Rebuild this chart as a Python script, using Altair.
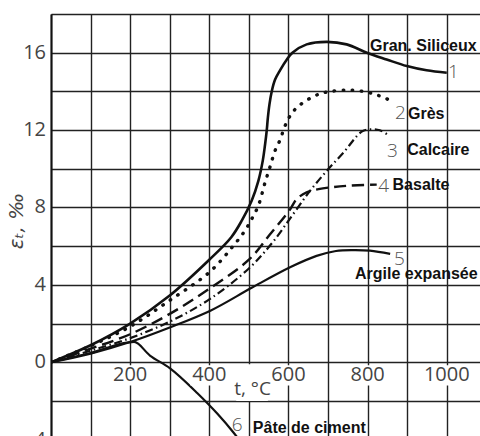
import altair as alt
import pandas as pd

# Thermal strain of concrete aggregates vs temperature
x1 = [0, 100, 200, 300, 400, 455, 482, 507, 524, 535, 541, 545, 548, 552, 558, 566, 579, 596, 610, 646, 697, 747, 798, 848, 899, 949, 1000]
y1 = [0, 0.88, 2.0, 3.45, 5.3, 6.45, 7.32, 8.35, 9.38, 10.41, 11.27, 11.96, 12.64, 13.33, 14.02, 14.6, 15.1, 15.65, 16.0, 16.43, 16.56, 16.43, 16.0, 15.65, 15.31, 15.09, 14.96]

x2 = [0, 100, 200, 300, 400, 460, 490, 507, 524, 541, 553, 566, 579, 591, 604, 621, 650, 676, 701, 747, 794, 831, 861]
y2 = [0, 0.85, 1.85, 3.2, 4.65, 6.0, 6.8, 7.4, 8.1, 9.3, 10.07, 10.93, 11.5, 12.2, 12.73, 13.16, 13.59, 13.85, 13.98, 14.07, 13.98, 13.76, 13.5]

x3 = [0, 100, 200, 300, 400, 500, 560, 612, 655, 697, 739, 785, 806, 831, 852]
y3 = [0, 0.6, 1.25, 2.1, 3.25, 4.85, 6.2, 7.66, 8.87, 9.9, 10.84, 11.92, 12.04, 11.99, 11.75]

x4 = [0, 100, 200, 300, 400, 500, 553, 604, 621, 646, 676, 747, 823]
y4 = [0, 0.7, 1.45, 2.5, 3.8, 5.3, 6.6, 7.9, 8.44, 8.78, 8.95, 9.12, 9.18]

x5 = [0, 100, 200, 300, 404, 507, 604, 671, 720, 760, 806, 857]
y5 = [0, 0.45, 1.05, 1.8, 2.68, 3.85, 4.91, 5.5, 5.75, 5.8, 5.77, 5.6]

x6 = [0, 100, 210, 250, 300, 370, 420, 460, 490]
y6 = [0, 0.48, 1.05, 0.35, -0.3, -1.6, -2.65, -3.6, -4.4]

# Curve numbers and material names
num_text = ["1", "2", "3", "4", "5", "6"]
num_x = [1003, 869, 849, 827, 867, 457]
num_y = [15.0, 12.89, 10.93, 9.12, 5.36, -3.25]

name_text = ["Gran. Siliceux", "Grès", "Calcaire", "Basalte", "Argile expansée", "Pâte de ciment"]
name_x = [806, 902, 900, 863, 768, 510]
name_y = [16.35, 12.84, 10.98, 9.15, 4.57, -3.42]

x_ticks = [200, 400, 600, 800, 1000]
y_ticks = [16, 12, 8, 4, 0, -4]
y_tick_text = ["16", "12", "8", "4", "0", "−4"]

X_DOM = [0, 1084]
Y_DOM = [-3.81, 18]
TICK_FONT = "Open Sans"
TICK_WEIGHT = 400
TICK_COLOR = "#444444"

xs = alt.Scale(domain=X_DOM, nice=False, zero=False)
ys = alt.Scale(domain=Y_DOM, nice=False, zero=False)

grid_x = [v for v in range(0, 1100, 100)]
grid_y = [v for v in range(-2, 19, 2)]

base_x_axis = alt.Axis(values=grid_x, grid=True, gridColor="#222222", gridWidth=1.4,
                       labels=False, ticks=False, domain=False, title=None)
base_y_axis = alt.Axis(values=grid_y, grid=True, gridColor="#222222", gridWidth=1.4,
                       labels=False, ticks=False, domain=True, domainColor="#111",
                       domainWidth=2, title=None)


def curve(xv, yv, interp="catmull-rom", **mark):
    df = pd.DataFrame({"t": xv, "e": yv})
    return alt.Chart(df).mark_line(color="#111", interpolate=interp, clip=True, **mark).encode(
        x=alt.X("t:Q", scale=xs, axis=base_x_axis),
        y=alt.Y("e:Q", scale=ys, axis=base_y_axis),
    )


c1 = curve(x1, y1, strokeWidth=2.6)
c2 = curve(x2, y2, strokeWidth=3.4, strokeDash=[0.5, 8.5], strokeCap="round")
c3 = curve(x3, y3, strokeWidth=2.2, strokeDash=[8, 3.5, 1.5, 3.5])
c4 = curve(x4, y4, strokeWidth=2.4, strokeDash=[12, 6])
c5 = curve(x5, y5, strokeWidth=2.2)
c6 = curve(x6, y6, interp="monotone", strokeWidth=2.2)

# White patches under the in-plot tick labels and axis title
xt = pd.DataFrame({"v": x_ticks, "lab": [str(v) for v in x_ticks]})
xt_bg = alt.Chart(xt).transform_calculate(
    a="datum.v - (datum.v >= 1000 ? 58 : 48)",
    b="datum.v + (datum.v >= 1000 ? 58 : 48)",
    y0="-0.15", y1="-1.2",
).mark_rect(color="white").encode(
    x=alt.X("a:Q", scale=xs), x2="b:Q",
    y=alt.Y("y0:Q", scale=ys), y2="y1:Q",
)
xt_txt = alt.Chart(xt).transform_calculate(yy="-0.68").mark_text(
    font=TICK_FONT, fontWeight=TICK_WEIGHT, fontSize=20, color=TICK_COLOR,
    baseline="middle", align="center"
).encode(x=alt.X("v:Q", scale=xs), y=alt.Y("yy:Q", scale=ys), text="lab:N")

ttl = pd.DataFrame({"a": [468], "b": [548], "y0": [-0.1], "y1": [-2.0],
                    "xm": [463], "ym": [-1.4], "lab": ["t, °C"]})
ttl_bg = alt.Chart(ttl).mark_rect(color="white").encode(
    x=alt.X("a:Q", scale=xs), x2="b:Q", y=alt.Y("y0:Q", scale=ys), y2="y1:Q")
ttl_txt = alt.Chart(ttl).mark_text(
    font=TICK_FONT, fontWeight=TICK_WEIGHT, fontSize=19, color=TICK_COLOR,
    baseline="middle", align="left"
).encode(x=alt.X("xm:Q", scale=xs), y=alt.Y("ym:Q", scale=ys), text="lab:N")

yt = pd.DataFrame({"v": y_ticks, "lab": y_tick_text})
yt_txt = alt.Chart(yt).transform_calculate(x0="0").mark_text(
    font=TICK_FONT, fontWeight=TICK_WEIGHT, fontSize=20, color=TICK_COLOR,
    baseline="middle", align="right", dx=-5
).encode(x=alt.X("x0:Q", scale=xs), y=alt.Y("v:Q", scale=ys), text="lab:N")

ylab = pd.DataFrame({"xm": [-86], "ym": [7.3], "lab": ["εₜ, ‰"]})
ylab_txt = alt.Chart(ylab).mark_text(
    font="DejaVu Sans", fontSize=20, fontStyle="italic", color=TICK_COLOR,
    baseline="middle", align="center", angle=270
).encode(x=alt.X("xm:Q", scale=xs), y=alt.Y("ym:Q", scale=ys), text="lab:N")

nums = pd.DataFrame({"x": num_x, "y": num_y, "lab": num_text})
nums_txt = alt.Chart(nums).mark_text(
    font=TICK_FONT, fontWeight=300, fontSize=19, color="#555",
    baseline="middle", align="left"
).encode(x=alt.X("x:Q", scale=xs), y=alt.Y("y:Q", scale=ys), text="lab:N")

names = pd.DataFrame({"x": name_x, "y": name_y, "lab": name_text})
names_txt = alt.Chart(names).mark_text(
    font="Liberation Sans", fontSize=16, fontWeight="bold", color="#111",
    baseline="middle", align="left"
).encode(x=alt.X("x:Q", scale=xs), y=alt.Y("y:Q", scale=ys), text="lab:N")

chart = alt.layer(
    c1, c2, c3, c4, c5, c6,
    xt_bg, ttl_bg, xt_txt, ttl_txt, yt_txt, ylab_txt, nums_txt, names_txt,
).properties(
    width=429, height=422,
    autosize=alt.AutoSizeParams(type="none"),
    padding={"left": 51, "top": 14, "right": 0, "bottom": 0},
    background="white",
).configure_view(stroke=None)

chart.save("out.html", embed_options={"renderer": "svg", "actions": False})
